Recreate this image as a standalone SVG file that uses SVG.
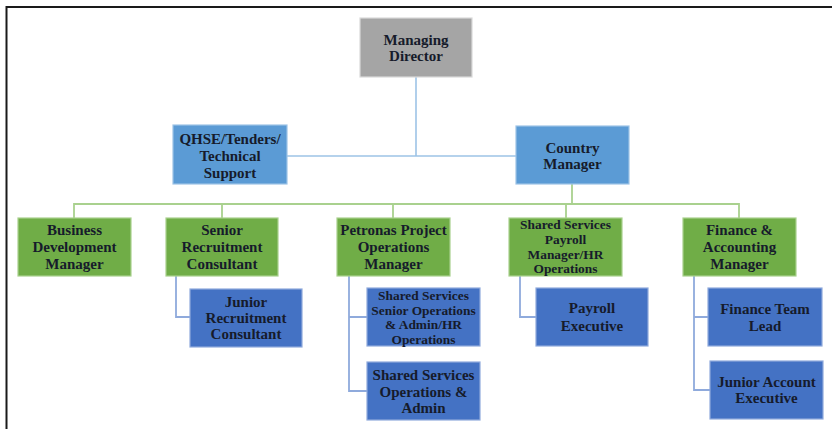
<svg xmlns="http://www.w3.org/2000/svg" width="832" height="429" viewBox="0 0 832 429">
  <style>
    .box { stroke-width: 1.2; }
    .gray { fill: #a5a5a5; stroke: #d9d9d9; }
    .lblue { fill: #5b9bd5; stroke: #9dc3e6; }
    .green { fill: #70ad47; stroke: #a9d18e; }
    .dblue { fill: #4472c4; stroke: #8faadc; }
    text { font-family: "Liberation Serif", "Times New Roman", serif; font-weight: bold; fill: #161b2b; text-anchor: middle; }
    .t15 { font-size: 15px; }
    .t13 { font-size: 13.4px; }
    .c-top { stroke: #9dc3e6; stroke-width: 1.6; fill: none; }
    .c-mid { stroke: #a9d18e; stroke-width: 1.8; fill: none; }
    .c-low { stroke: #8faadc; stroke-width: 1.8; fill: none; }
  </style>

  <rect width="832" height="429" fill="#ffffff"/>
  <!-- frame -->
  <path d="M6.5 429 V7 H832" fill="none" stroke="#1a1a1a" stroke-width="2"/>

  <g id="connectors">
    <path class="c-top" d="M416 77 V156"/>
    <path class="c-top" d="M287 156 H516"/>
    <path class="c-mid" d="M572 184 V204"/>
    <path class="c-mid" d="M74 218 V204 H739 V218"/>
    <path class="c-mid" d="M222 204 V218 M393 204 V218 M566 204 V218"/>
    <path class="c-low" d="M176 276 V317 H190"/>
    <path class="c-low" d="M349 276 V391 H367 M349 317 H367"/>
    <path class="c-low" d="M520 276 V317 H536"/>
    <path class="c-low" d="M694 276 V390 H710 M694 317 H708"/>
  </g>

  <g id="managing-director">
    <rect class="box gray" x="360" y="18" width="112" height="59"/>
    <text class="t15" x="416" y="45">Managing</text>
    <text class="t15" x="416" y="61">Director</text>
  </g>

  <g id="qhse">
    <rect class="box lblue" x="173" y="125" width="114" height="59"/>
    <text class="t15" x="230" y="144">QHSE/Tenders/</text>
    <text class="t15" x="230" y="161">Technical</text>
    <text class="t15" x="230" y="178">Support</text>
  </g>

  <g id="country-manager">
    <rect class="box lblue" x="516" y="126" width="113" height="58"/>
    <text class="t15" x="572.5" y="153">Country</text>
    <text class="t15" x="572.5" y="169">Manager</text>
  </g>

  <g id="business-development">
    <rect class="box green" x="18" y="218" width="113" height="58"/>
    <text class="t15" x="74.5" y="235">Business</text>
    <text class="t15" x="74.5" y="252">Development</text>
    <text class="t15" x="74.5" y="269">Manager</text>
  </g>

  <g id="senior-recruitment">
    <rect class="box green" x="166" y="218" width="112" height="58"/>
    <text class="t15" x="222" y="235">Senior</text>
    <text class="t15" x="222" y="252">Recruitment</text>
    <text class="t15" x="222" y="269">Consultant</text>
  </g>

  <g id="petronas">
    <rect class="box green" x="337" y="218" width="113" height="58"/>
    <text class="t15" x="393.5" y="235">Petronas Project</text>
    <text class="t15" x="393.5" y="252">Operations</text>
    <text class="t15" x="393.5" y="269">Manager</text>
  </g>

  <g id="payroll-manager">
    <rect class="box green" x="509" y="218" width="113" height="58"/>
    <text class="t13" x="565.5" y="229">Shared Services</text>
    <text class="t13" x="565.5" y="244">Payroll</text>
    <text class="t13" x="565.5" y="258.5">Manager/HR</text>
    <text class="t13" x="565.5" y="273">Operations</text>
  </g>

  <g id="finance-manager">
    <rect class="box green" x="683" y="218" width="113" height="58"/>
    <text class="t15" x="739.5" y="235">Finance &amp;</text>
    <text class="t15" x="739.5" y="252">Accounting</text>
    <text class="t15" x="739.5" y="269">Manager</text>
  </g>

  <g id="junior-recruitment">
    <rect class="box dblue" x="190" y="289" width="112" height="58"/>
    <text class="t15" x="246" y="307">Junior</text>
    <text class="t15" x="246" y="323">Recruitment</text>
    <text class="t15" x="246" y="339">Consultant</text>
  </g>

  <g id="senior-operations">
    <rect class="box dblue" x="367" y="288" width="113" height="58"/>
    <text class="t13" x="423.5" y="299.5">Shared Services</text>
    <text class="t13" x="423.5" y="314.5">Senior Operations</text>
    <text class="t13" x="423.5" y="328.5">&amp; Admin/HR</text>
    <text class="t13" x="423.5" y="343.5">Operations</text>
  </g>

  <g id="operations-admin">
    <rect class="box dblue" x="367" y="362" width="113" height="58"/>
    <text class="t15" x="423.5" y="380">Shared Services</text>
    <text class="t15" x="423.5" y="397">Operations &amp;</text>
    <text class="t15" x="423.5" y="413">Admin</text>
  </g>

  <g id="payroll-executive">
    <rect class="box dblue" x="536" y="288" width="112" height="58"/>
    <text class="t15" x="592" y="313">Payroll</text>
    <text class="t15" x="592" y="331">Executive</text>
  </g>

  <g id="finance-team-lead">
    <rect class="box dblue" x="708" y="288" width="114" height="58"/>
    <text class="t15" x="765" y="314">Finance Team</text>
    <text class="t15" x="765" y="331">Lead</text>
  </g>

  <g id="junior-account">
    <rect class="box dblue" x="710" y="361" width="113" height="58"/>
    <text class="t15" x="766.5" y="387">Junior Account</text>
    <text class="t15" x="766.5" y="403">Executive</text>
  </g>
</svg>
